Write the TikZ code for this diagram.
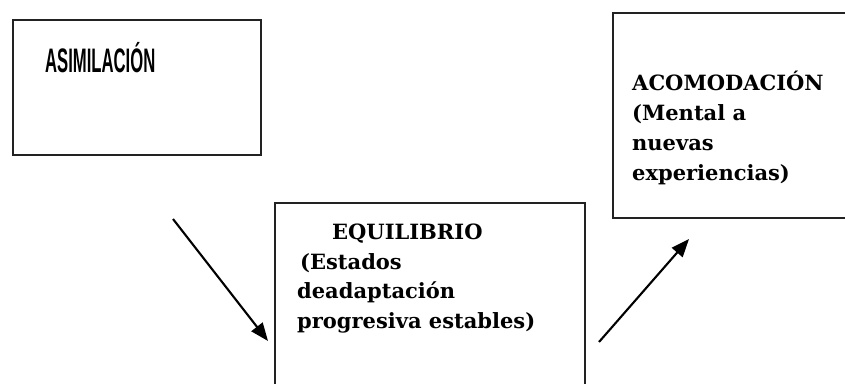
\documentclass[tikz,border=0pt]{standalone}
\usepackage{fontspec}
\setmainfont{DejaVu Serif}
\newfontfamily\narrowsans{Liberation Sans}
\usetikzlibrary{arrows.meta}
\definecolor{ink}{HTML}{000000}
\definecolor{frame}{HTML}{222222}
\tikzset{
  boxline/.style={draw=frame, line width=1.8pt},
  lab/.style={text=ink, font=\bfseries\fontsize{21}{30}\selectfont, inner sep=0pt, anchor=base west},
  conn/.style={draw=ink, line width=2.1pt, -{Triangle[length=18pt,width=14pt]}},
}
\begin{document}
\begin{tikzpicture}[x=1pt,y=-1pt]
  \useasboundingbox (0,0) rectangle (845,383);
  \clip (0,0) rectangle (845,383);
  % boxes
  \draw[boxline, line width=2.3pt] (13,20) rectangle (261,155);
  \draw[boxline] (613,13) rectangle (860,218);
  \draw[boxline] (275,203) rectangle (585,400);
  % asimilacion
  \node[inner sep=0pt, anchor=base west] (asim) at (45,72)
    {\scalebox{0.49}[1]{\narrowsans\bfseries\fontsize{34}{34}\selectfont ASIMILACIÓN}};
  % acomodacion
  \foreach \txt [count=\i] in {{ACOMODACIÓN}, {(Mental a}, {nuevas}, {experiencias)}}
    \node[lab] (acom\i) at (632,{60+30*\i}) {\txt};
  % equilibrio
  \foreach \dx/\txt [count=\i] in {35/{EQUILIBRIO}, 3/{(Estados}, 0/{deadaptación}, 0/{progresiva estables)}}
    \node[lab] (equi\i) at ({297+\dx},{210+29.5*\i}) {\txt};
  % arrows
  \coordinate (a1) at (173,219);
  \coordinate (b1) at (268,341);
  \coordinate (a2) at (599,342);
  \coordinate (b2) at (689,239);
  \draw[conn] (a1) -- (b1);
  \draw[conn] (a2) -- (b2);
\end{tikzpicture}
\end{document}
